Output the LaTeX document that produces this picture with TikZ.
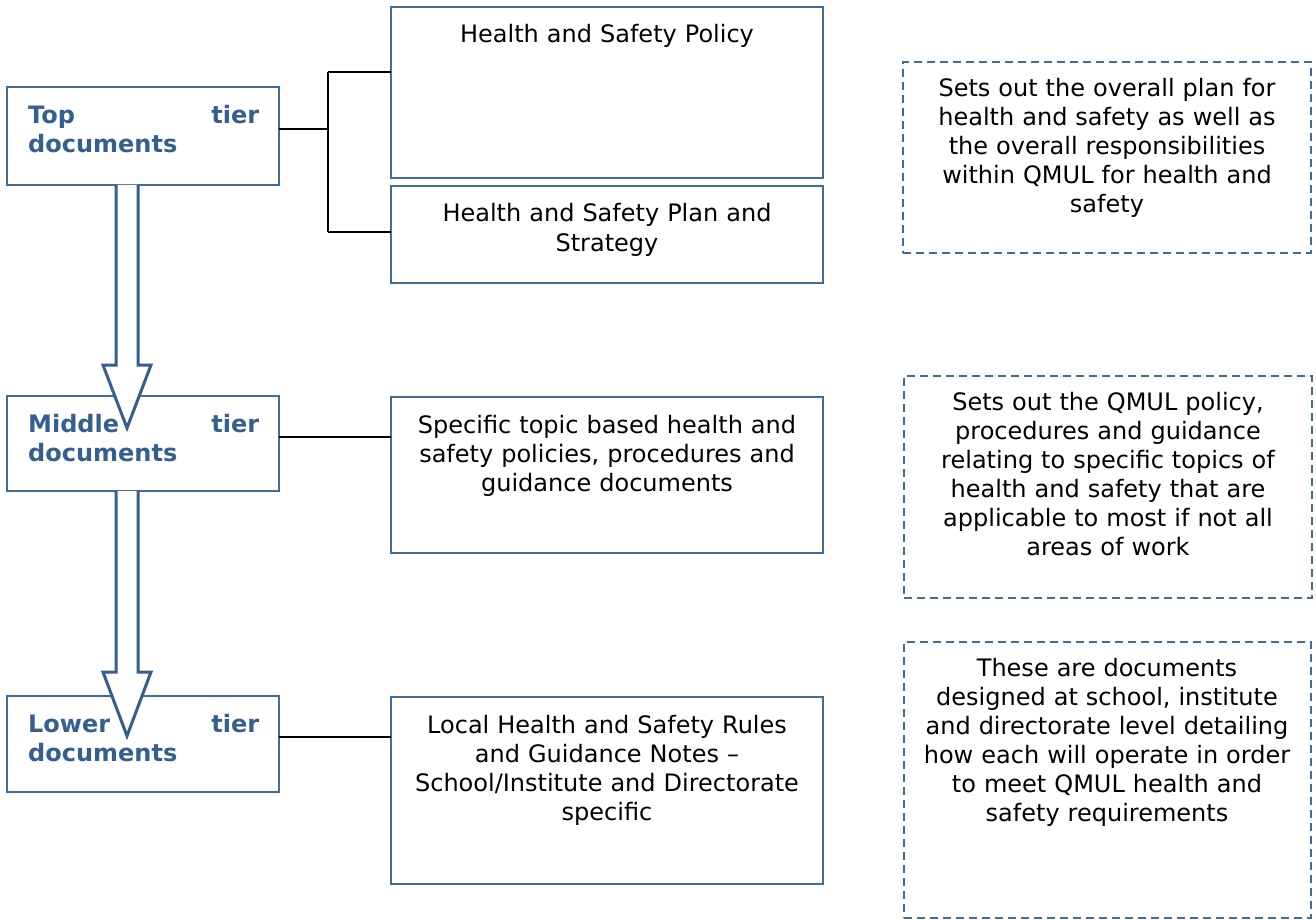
\documentclass[tikz,border=0pt]{standalone}
\usepackage{fontspec}
\setmainfont{DejaVu Sans}
\usetikzlibrary{calc}
\definecolor{hsblue}{HTML}{365F91}
\definecolor{hsline}{HTML}{3F6D9F}
\begin{document}
\begin{tikzpicture}[x=1pt,y=-1pt,
  frame/.style={draw=hsline, line width=2.2pt, fill=white, outer sep=0pt, inner sep=0pt, anchor=north west, rectangle},
  dframe/.style={frame, dash pattern=on 8pt off 5pt},
  tiertxt/.style={text=hsblue, font=\fontsize{24}{29}\selectfont\bfseries, text width=231pt, align=justify, inner sep=0pt, anchor=base west},
  bodytxt/.style={text=black, font=\fontsize{24}{29}\selectfont, text width=425pt, align=center, inner sep=0pt, anchor=base},
  conn/.style={draw=black, line width=1.6pt},
  blockarrow/.style={draw=hsblue, line width=3pt, fill=white, line join=miter}
]
\useasboundingbox[fill=white] (0,0) rectangle (1316,920);

% left tier boxes
\node[frame, minimum width=272pt, minimum height=98pt] (top) at (7,87) {};
\node[frame, minimum width=272pt, minimum height=95pt] (mid) at (7,396) {};
\node[frame, minimum width=272pt, minimum height=96pt] (low) at (7,696) {};

% middle column boxes
\node[frame, minimum width=432pt, minimum height=171pt] (pol) at (391,7) {};
\node[frame, minimum width=432pt, minimum height=97pt] (plan) at (391,186) {};
\node[frame, minimum width=432pt, minimum height=156pt] (spec) at (391,397) {};
\node[frame, minimum width=432pt, minimum height=187pt] (local) at (391,697) {};

% right dashed boxes
\node[dframe, minimum width=408pt, minimum height=191pt] (d1) at (903,62) {};
\node[dframe, minimum width=408pt, minimum height=222pt] (d2) at (904,376) {};
\node[dframe, minimum width=407pt, minimum height=276pt] (d3) at (904,642) {};

% block arrows
\coordinate (a1s) at ($(top.south west)+(109,0)$);
\coordinate (a1t) at ($(mid.north west)+(120,32)$);
\draw[blockarrow] (a1s) -- ($(a1s)+(0,180)$) -- ($(a1s)+(-13,180)$) -- (a1t)
  -- ($(a1s)+(35,180)$) -- ($(a1s)+(22,180)$) -- ($(a1s)+(22,0)$);
\coordinate (a2s) at ($(mid.south west)+(109,0)$);
\coordinate (a2t) at ($(low.north west)+(120,40)$);
\draw[blockarrow] (a2s) -- ($(a2s)+(0,181)$) -- ($(a2s)+(-13,181)$) -- (a2t)
  -- ($(a2s)+(35,181)$) -- ($(a2s)+(22,181)$) -- ($(a2s)+(22,0)$);

% tier texts
\node[tiertxt] (toptxt) at (28,124) {Top\hfill tier\\documents};
\node[tiertxt] (midtxt) at (28,432) {Middle\hfill tier\\documents};
\node[tiertxt] (lowtxt) at (28,732) {Lower\hfill tier\\documents};

% connectors
\coordinate (jc) at ($(top.north east)+(49,42)$);
\coordinate (j1) at ($(pol.north west)+(-63,65)$);
\coordinate (j2) at ($(plan.north west)+(-63,46)$);
\draw[conn] ($(top.north east)+(0,42)$) -- (jc);
\draw[conn] (j1) -- (j2);
\draw[conn] (j1) -- (j1 -| pol.west);
\draw[conn] (j2) -- (j2 -| plan.west);
\coordinate (jm) at ($(mid.north east)+(0,41)$);
\draw[conn] (jm) -- (jm -| spec.west);
\coordinate (jl) at ($(low.north east)+(0,41)$);
\draw[conn] (jl) -- (jl -| local.west);

% middle column texts
\node[bodytxt] (poltxt) at (607,43) {Health and Safety Policy};
\node[bodytxt] (plantxt) at (607,222) {Health and Safety Plan and\\Strategy};
\node[bodytxt] (spectxt) at (607,433) {Specific topic based health and\\safety policies, procedures and\\guidance documents};
\node[bodytxt] (localtxt) at (607,733) {Local Health and Safety Rules\\and Guidance Notes –\\School/Institute and Directorate\\specific};

% right texts
\node[bodytxt, text width=400pt] (d1txt) at (1107,97) {Sets out the overall plan for\\health and safety as well as\\the overall responsibilities\\within QMUL for health and\\safety};
\node[bodytxt, text width=400pt] (d2txt) at (1108,410) {Sets out the QMUL policy,\\procedures and guidance\\relating to specific topics of\\health and safety that are\\applicable to most if not all\\areas of work};
\node[bodytxt, text width=400pt] (d3txt) at (1107,676) {These are documents\\designed at school, institute\\and directorate level detailing\\how each will operate in order\\to meet QMUL health and\\safety requirements};
\end{tikzpicture}
\end{document}
